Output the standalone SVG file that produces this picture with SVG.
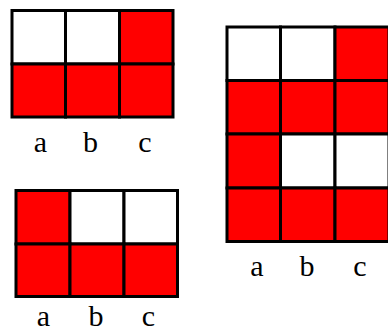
<svg xmlns="http://www.w3.org/2000/svg" width="388" height="331" viewBox="0 0 388 331">
<style>
.r{fill:#ff0000;stroke:#000;stroke-width:3}
.w{fill:#fff;stroke:#000;stroke-width:3}
.t{font-family:"Liberation Serif","Times New Roman",serif;font-size:30px;fill:#000;text-anchor:middle}
</style>
<rect width="388" height="331" fill="#fff"/>
<g id="grid-top-left">
<rect class="w" x="12" y="10.5" width="53.5" height="53.5"/>
<rect class="w" x="65.5" y="10.5" width="54" height="53.5"/>
<rect class="r" x="119.5" y="10.5" width="53.5" height="53.5"/>
<rect class="r" x="12" y="64" width="53.5" height="53"/>
<rect class="r" x="65.5" y="64" width="54" height="53"/>
<rect class="r" x="119.5" y="64" width="53.5" height="53"/>
<text class="t" x="40.5" y="152">a</text>
<text class="t" x="90.5" y="152">b</text>
<text class="t" x="145" y="152">c</text>
</g>
<g id="grid-bottom-left">
<rect class="r" x="16" y="190.5" width="54" height="53.5"/>
<rect class="w" x="70" y="190.5" width="54" height="53.5"/>
<rect class="w" x="124" y="190.5" width="53.5" height="53.5"/>
<rect class="r" x="16" y="244" width="54" height="52.5"/>
<rect class="r" x="70" y="244" width="54" height="52.5"/>
<rect class="r" x="124" y="244" width="53.5" height="52.5"/>
<text class="t" x="43.5" y="326">a</text>
<text class="t" x="96" y="326">b</text>
<text class="t" x="148.5" y="326">c</text>
</g>
<g id="grid-right">
<rect class="w" x="227" y="27" width="53.5" height="53.5"/>
<rect class="w" x="280.5" y="27" width="54.5" height="53.5"/>
<rect class="r" x="335" y="27" width="54" height="53.5"/>
<rect class="r" x="227" y="80.5" width="53.5" height="53.5"/>
<rect class="r" x="280.5" y="80.5" width="54.5" height="53.5"/>
<rect class="r" x="335" y="80.5" width="54" height="53.5"/>
<rect class="r" x="227" y="134" width="53.5" height="54"/>
<rect class="w" x="280.5" y="134" width="54.5" height="54"/>
<rect class="w" x="335" y="134" width="54" height="54"/>
<rect class="r" x="227" y="188" width="53.5" height="53.5"/>
<rect class="r" x="280.5" y="188" width="54.5" height="53.5"/>
<rect class="r" x="335" y="188" width="54" height="53.5"/>
<text class="t" x="257" y="276">a</text>
<text class="t" x="307" y="276">b</text>
<text class="t" x="360" y="276">c</text>
</g>
<g id="connectors"/>
</svg>
